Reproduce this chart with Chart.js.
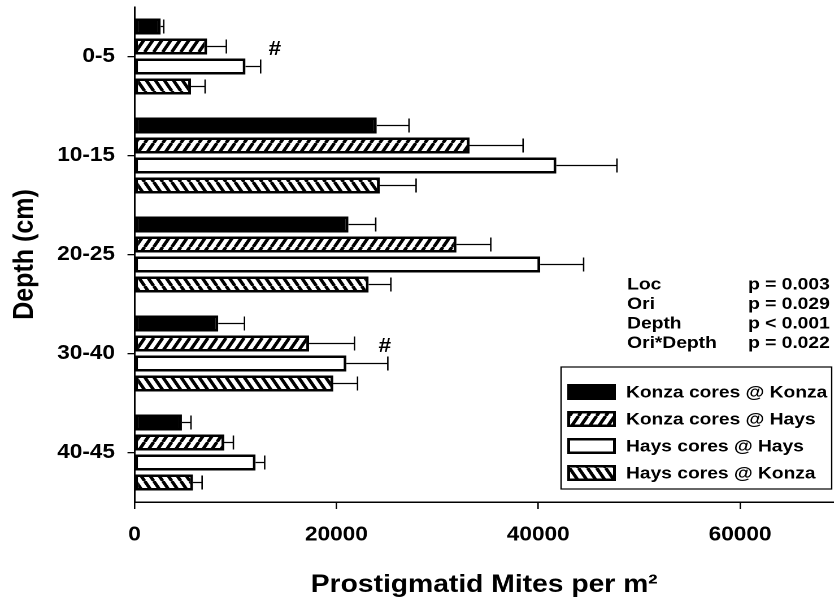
<!DOCTYPE html>
<html>
<head>
<meta charset="utf-8">
<title>Prostigmatid mites by depth</title>
<script src="https://cdn.jsdelivr.net/npm/chart.js@4.4.0/dist/chart.umd.min.js"></script>
<style>
  html, body { margin: 0; padding: 0; background: #fff; overflow: hidden; }
  /* the figure is laid out narrow and stretched sideways, like the exported plot */
  #wrap { width: 738px; height: 603px; transform: scaleX(1.13); transform-origin: 0 0; }
</style>
</head>
<body>
<div id="wrap"><canvas id="chart" width="738" height="603"></canvas></div>
<script>
// depth classes (cm) and mean mites per m2 for each core origin / location
const depths = ['0-5', '10-15', '20-25', '30-40', '40-45'];
const seriesNames = ['Konza cores @ Konza', 'Konza cores @ Hays', 'Hays cores @ Hays', 'Hays cores @ Konza'];
const konzaAtKonza = [2600, 24000, 21200, 8300, 4700];
const konzaAtHays = [7200, 33200, 31900, 17300, 8900];
const haysAtHays = [11000, 41800, 40200, 21000, 12000];
const haysAtKonza = [5600, 24300, 23200, 19700, 5800];

// standard errors, drawn one-sided
const seKonzaAtKonza = [300, 3200, 2700, 2600, 900];
const seKonzaAtHays = [1900, 5300, 3400, 4500, 900];
const seHaysAtHays = [1500, 6000, 4300, 4100, 900];
const seHaysAtKonza = [1400, 3600, 2200, 2400, 900];

const xTicks = [0, 20000, 40000, 60000];

// ANOVA results
const statTerms = ['Loc', 'Ori', 'Depth', 'Ori*Depth'];
const statValues = ['p = 0.003', 'p = 0.029', 'p < 0.001', 'p = 0.022'];

// '#' marks: depth class and where they sit on the x axis
const markDepths = ['0-5', '30-40'];
const markValues = [13900, 24800];

const FONT = '"Liberation Sans", Arial, Helvetica, sans-serif';
Chart.defaults.font.family = FONT;
Chart.defaults.font.weight = 'bold';
Chart.defaults.color = '#000';

// diagonal hatch fill, dir 1 = '/', dir -1 = '\'
function hatch(dir) {
  const w = 16, h = 26;
  const c = document.createElement('canvas');
  c.width = w; c.height = h;
  const g = c.getContext('2d');
  g.fillStyle = '#fff';
  g.fillRect(0, 0, w, h);
  g.strokeStyle = '#000';
  g.lineWidth = 6;
  g.beginPath();
  for (let k = -1; k <= 1; k++) {
    if (dir > 0) { g.moveTo(k * w, h); g.lineTo(k * w + w, 0); }
    else { g.moveTo(k * w, 0); g.lineTo(k * w + w, h); }
  }
  g.stroke();
  const p = g.createPattern(c, 'repeat');
  p.setTransform(new DOMMatrix().scale(0.5));
  return p;
}

const errorBars = {
  id: 'errorBars',
  afterDatasetsDraw(chart) {
    const ctx = chart.ctx, xs = chart.scales.x;
    ctx.save();
    ctx.strokeStyle = '#000';
    ctx.lineWidth = 1.3;
    chart.data.datasets.forEach((ds, i) => {
      chart.getDatasetMeta(i).data.forEach((bar, j) => {
        const x0 = xs.getPixelForValue(ds.data[j]);
        const x1 = xs.getPixelForValue(ds.data[j] + ds.errors[j]);
        const y = bar.y;
        ctx.beginPath();
        ctx.moveTo(x0, y);
        ctx.lineTo(x1, y);
        ctx.moveTo(x1, y - 7);
        ctx.lineTo(x1, y + 7);
        ctx.stroke();
      });
    });
    ctx.restore();
  }
};

const notes = {
  id: 'notes',
  afterDraw(chart) {
    const ctx = chart.ctx, xs = chart.scales.x;
    ctx.save();
    ctx.fillStyle = '#000';
    ctx.textBaseline = 'middle';

    // significance marks
    ctx.font = 'bold 20px ' + FONT;
    ctx.textAlign = 'center';
    markDepths.forEach((d, k) => {
      const bar = chart.getDatasetMeta(1).data[depths.indexOf(d)];
      ctx.fillText('#', xs.getPixelForValue(markValues[k]), bar.y + 3);
    });

    // p values
    ctx.font = 'bold 17px ' + FONT;
    ctx.textAlign = 'left';
    statTerms.forEach((t, k) => {
      const y = 285 + k * 19.4;
      ctx.fillText(t, 555, y);
      ctx.fillText(statValues[k], 662, y);
    });

    // legend
    ctx.strokeStyle = '#000';
    ctx.lineWidth = 1.2;
    ctx.strokeRect(496.5, 367, 239.5, 122);
    chart.data.datasets.forEach((ds, i) => {
      const y = 392 + i * 27;
      ctx.fillStyle = ds.backgroundColor;
      ctx.fillRect(502, y - 8, 43, 16);
      ctx.lineWidth = 2.5;
      ctx.strokeRect(503.25, y - 6.75, 40.5, 13.5);
      ctx.fillStyle = '#000';
      ctx.fillText(ds.label, 554, y + 1);
    });
    ctx.restore();
  }
};

new Chart(document.getElementById('chart'), {
  type: 'bar',
  data: {
    labels: depths,
    datasets: [
      { label: seriesNames[0], data: konzaAtKonza, errors: seKonzaAtKonza, backgroundColor: '#000' },
      { label: seriesNames[1], data: konzaAtHays, errors: seKonzaAtHays, backgroundColor: hatch(1) },
      { label: seriesNames[2], data: haysAtHays, errors: seHaysAtHays, backgroundColor: '#fff' },
      { label: seriesNames[3], data: haysAtKonza, errors: seHaysAtKonza, backgroundColor: hatch(-1) }
    ]
  },
  options: {
    indexAxis: 'y',
    responsive: false,
    devicePixelRatio: 2,
    animation: false,
    layout: { padding: { top: 7, right: 0, bottom: 0, left: 0 } },
    datasets: {
      bar: {
        borderColor: '#000',
        borderWidth: 2.5,
        borderSkipped: false,
        categoryPercentage: 0.808,
        barPercentage: 0.8
      }
    },
    plugins: { legend: { display: false }, tooltip: { enabled: false } },
    scales: {
      x: {
        min: 0,
        max: 69300,
        afterFit: s => { s.height = 101; },
        afterBuildTicks: s => { s.ticks = xTicks.map(v => ({ value: v })); },
        ticks: { font: { size: 20, weight: 'bold' }, padding: 14, callback: v => String(v) },
        grid: { drawOnChartArea: false, tickLength: 7, color: '#000', lineWidth: 1.3 },
        border: { color: '#000', width: 1.5 },
        title: { display: true, text: 'Prostigmatid Mites per m²', font: { size: 25, weight: 'bold' }, padding: { bottom: 3 } }
      },
      y: {
        // fixed axis width, and no extra room above/below for the tick labels
        afterFit: s => { s.width = 119; s.paddingTop = 0; s.paddingBottom = 0; },
        ticks: { font: { size: 20, weight: 'bold' }, padding: 11 },
        grid: { offset: false, drawOnChartArea: false, tickLength: 6.2, color: '#000', lineWidth: 1.3 },
        border: { color: '#000', width: 1.5 },
        title: { display: true, text: 'Depth (cm)', font: { size: 25, weight: 'bold' }, padding: { top: 7 } }
      }
    }
  },
  plugins: [errorBars, notes]
});
</script>
</body>
</html>
